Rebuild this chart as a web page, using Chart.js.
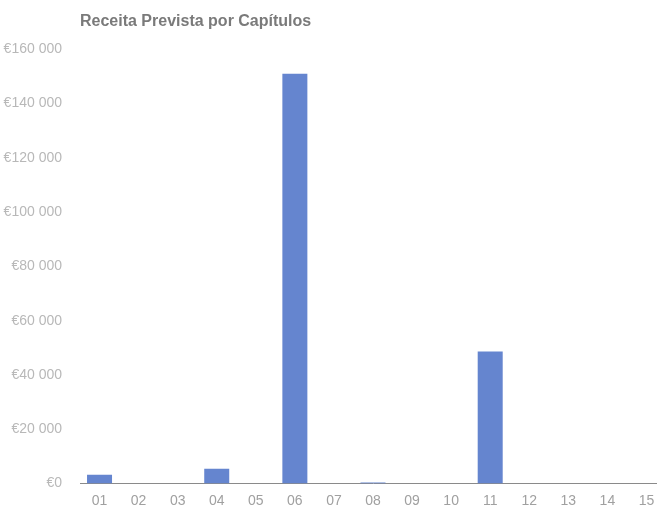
<!DOCTYPE html>
<html>
<head>
<meta charset="utf-8">
<script src="https://cdn.jsdelivr.net/npm/chart.js@4/dist/chart.umd.min.js"></script>
<style>
  html, body { margin: 0; padding: 0; background: #fff; overflow: hidden; }
  #wrap { width: 672px; height: 510px; }
  canvas { display: block; }
</style>
</head>
<body>
<div id="wrap"><canvas id="chart" width="672" height="510"></canvas></div>
<script>
// capitulos e receita prevista
const capitulos = ["01", "02", "03", "04", "05", "06", "07", "08", "09", "10", "11", "12", "13", "14", "15"];
const receita = [3300, 0, 0, 5500, 0, 151000, 0, 400, 0, 0, 48700, 0, 0, 0, 0];
const yTicks = [0, 20000, 40000, 60000, 80000, 100000, 120000, 140000, 160000];

function euro(v) {
    return "€" + String(v).replace(/\B(?=(\d{3})+(?!\d))/g, " ");
}

const ctx = document.getElementById("chart").getContext("2d");
new Chart(ctx, {
    type: 'bar',
    data: {
        labels: capitulos,
        datasets: [{
            data: receita,
            backgroundColor: '#6585CF',
            borderWidth: 0,
            barPercentage: 0.8,
            categoryPercentage: 0.8
        }]
    },
    options: {
        responsive: false,
        animation: false,
        layout: { padding: { left: 0, right: 6, top: 0, bottom: 0 } },
        plugins: {
            legend: { display: false },
            tooltip: { enabled: false },
            title: {
                display: true,
                text: 'Receita Prevista por Capítulos',
                align: 'start',
                fullSize: false,
                color: '#7a7a7a',
                font: { family: 'Liberation Sans, Arial, sans-serif', size: 16, weight: 'bold' },
                padding: { top: 12, bottom: 18 }
            }
        },
        scales: {
            y: {
                min: 0,
                max: 160000,
                afterBuildTicks: axis => { axis.ticks = yTicks.map(v => ({ value: v })); },
                afterFit: axis => { axis.width = 80; },
                grid: { display: false, drawTicks: false },
                border: { display: false },
                ticks: {
                    color: '#b8b8b8',
                    padding: 18,
                    font: { family: 'Liberation Sans, Arial, sans-serif', size: 14 },
                    callback: v => euro(v)
                }
            },
            x: {
                afterFit: axis => { axis.height = 24; },
                grid: { display: false, drawTicks: false },
                border: { display: true, color: '#8a8a8a', width: 1, dash: [1, 1] },
                ticks: {
                    color: '#a0a0a0',
                    padding: 9,
                    font: { family: 'Liberation Sans, Arial, sans-serif', size: 14 }
                }
            }
        }
    }
});
</script>
</body>
</html>
